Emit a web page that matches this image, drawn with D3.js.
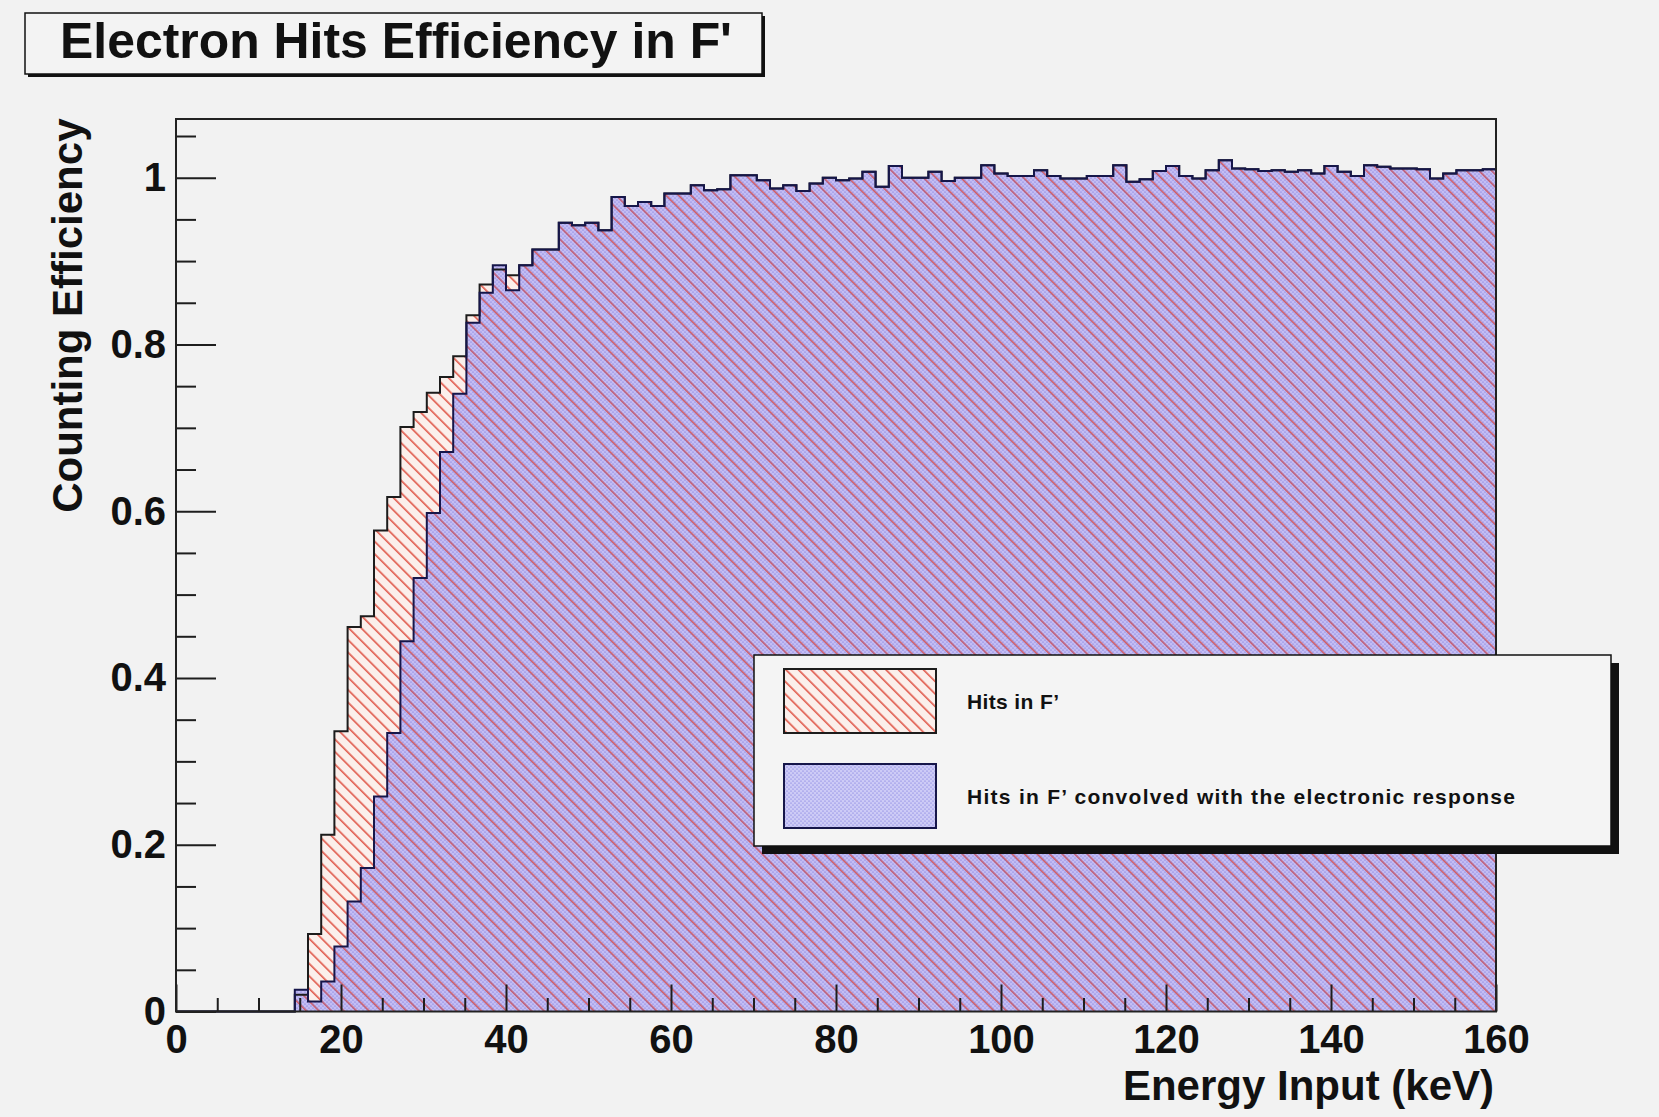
<!DOCTYPE html>
<html>
<head>
<meta charset="utf-8">
<script src="https://cdn.jsdelivr.net/npm/d3@7"></script>
<style>
  body { margin: 0; background: #f2f2f2; }
  svg { display: block; font-family: "Liberation Sans", Arial, Helvetica, sans-serif; font-weight: bold; }
</style>
</head>
<body>
<div id="chart"></div>
<script>
// histogram binning (keV)
var xMin = 0, xMax = 160, nBins = 100;

// Hits in F' (red hatched)
var hitsRaw = [
  0, 0, 0, 0, 0, 0, 0, 0, 0, 0.020,
  0.093, 0.212, 0.336, 0.461, 0.474, 0.577, 0.617, 0.701, 0.719, 0.742,
  0.761, 0.786, 0.835, 0.872, 0.890, 0.883, 0.895, 0.914, 0.914, 0.946,
  0.943, 0.946, 0.937, 0.977, 0.966, 0.971, 0.966, 0.981, 0.981, 0.991,
  0.985, 0.986, 1.003, 1.003, 0.997, 0.987, 0.991, 0.984, 0.993, 1.000,
  0.997, 0.999, 1.007, 0.989, 1.014, 1.000, 1.000, 1.007, 0.996, 1.000,
  1.000, 1.015, 1.005, 1.002, 1.002, 1.009, 1.002, 0.999, 0.999, 1.002,
  1.002, 1.015, 0.995, 0.998, 1.008, 1.014, 1.002, 0.999, 1.009, 1.021,
  1.011, 1.010, 1.008, 1.009, 1.007, 1.009, 1.005, 1.014, 1.007, 1.002,
  1.015, 1.013, 1.011, 1.011, 1.010, 0.999, 1.005, 1.009, 1.009, 1.010
];

// Hits in F' convolved with the electronic response (blue dotted)
var hitsConvolved = [
  0, 0, 0, 0, 0, 0, 0, 0, 0, 0.026,
  0.012, 0.036, 0.078, 0.132, 0.172, 0.258, 0.334, 0.444, 0.520, 0.598,
  0.671, 0.741, 0.826, 0.862, 0.895, 0.865, 0.895, 0.914, 0.914, 0.946,
  0.943, 0.946, 0.937, 0.977, 0.966, 0.971, 0.966, 0.981, 0.981, 0.991,
  0.985, 0.986, 1.003, 1.003, 0.997, 0.987, 0.991, 0.984, 0.993, 1.000,
  0.997, 0.999, 1.007, 0.989, 1.014, 1.000, 1.000, 1.007, 0.996, 1.000,
  1.000, 1.015, 1.005, 1.002, 1.002, 1.009, 1.002, 0.999, 0.999, 1.002,
  1.002, 1.015, 0.995, 0.998, 1.008, 1.014, 1.002, 0.999, 1.009, 1.021,
  1.011, 1.010, 1.008, 1.009, 1.007, 1.009, 1.005, 1.014, 1.007, 1.002,
  1.015, 1.013, 1.011, 1.011, 1.010, 0.999, 1.005, 1.009, 1.009, 1.010
];

var xTickValues = [0, 20, 40, 60, 80, 100, 120, 140, 160];
var xTickLabels = ["0", "20", "40", "60", "80", "100", "120", "140", "160"];
var yTickValues = [0, 0.2, 0.4, 0.6, 0.8, 1];
var yTickLabels = ["0", "0.2", "0.4", "0.6", "0.8", "1"];
var legendLabels = ["Hits in F\u2019", "Hits in F\u2019 convolved with the electronic response"];

var svgWidth = 1659;
var svgHeight = 1117;

var margin = { top: 119, right: 163, bottom: 105.5, left: 176 };
var width = svgWidth - margin.left - margin.right;
var height = svgHeight - margin.top - margin.bottom;

var svg = d3.select("#chart")
  .append("svg")
  .attr("width", svgWidth)
  .attr("height", svgHeight);

svg.append("rect")
  .attr("width", svgWidth)
  .attr("height", svgHeight)
  .attr("fill", "#f2f2f2");

// fill patterns
var defs = svg.append("defs");

defs.append("pattern")
  .attr("id", "hatchRed")
  .attr("patternUnits", "userSpaceOnUse")
  .attr("width", 8.84)
  .attr("height", 10)
  .attr("patternTransform", "rotate(-45)")
  .append("rect")
  .attr("width", 1.6)
  .attr("height", 10)
  .attr("fill", "#e0584a");

var dots = defs.append("pattern")
  .attr("id", "dotsBlue")
  .attr("patternUnits", "userSpaceOnUse")
  .attr("width", 4)
  .attr("height", 4);
dots.append("circle").attr("cx", 1).attr("cy", 1).attr("r", 0.6).attr("fill", "#6664d6");
dots.append("circle").attr("cx", 3).attr("cy", 3).attr("r", 0.6).attr("fill", "#6664d6");

var chartGroup = svg.append("g")
  .attr("transform", `translate(${margin.left}, ${margin.top})`);

// scales
var x = d3.scaleLinear().domain([xMin, xMax]).range([0, width]);
var y = d3.scaleLinear().domain([0, 1.0704]).range([height, 0]);

var binWidth = (xMax - xMin) / nBins;

function toSteps(values) {
  var pts = values.map((v, i) => ({ e: xMin + i * binWidth, v: v }));
  pts.push({ e: xMax, v: values[values.length - 1] });
  return pts;
}

var redPts = toSteps(hitsRaw);
var bluePts = toSteps(hitsConvolved);

var area = d3.area()
  .curve(d3.curveStepAfter)
  .x(d => x(d.e))
  .y0(y(0))
  .y1(d => y(d.v));

var line = d3.line()
  .curve(d3.curveStepAfter)
  .x(d => x(d.e))
  .y(d => y(d.v));

// layered fills: pale base, lavender base, red hatch, blue tint + dots
chartGroup.append("path").attr("d", area(redPts)).attr("fill", "#fbefeb");
chartGroup.append("path").attr("d", area(bluePts)).attr("fill", "#cdcbf6");
chartGroup.append("path").attr("d", area(redPts)).attr("fill", "url(#hatchRed)");
chartGroup.append("path").attr("d", area(bluePts)).attr("fill", "rgba(120,90,220,0.12)");
chartGroup.append("path").attr("d", area(bluePts)).attr("fill", "url(#dotsBlue)");

// outlines
chartGroup.append("path")
  .attr("d", line(redPts))
  .attr("fill", "none")
  .attr("stroke", "#1c1c1c")
  .attr("stroke-width", 2);

chartGroup.append("path")
  .attr("d", line(bluePts))
  .attr("fill", "none")
  .attr("stroke", "#16164a")
  .attr("stroke-width", 2);

// axes (ticks point into the frame)
var bottomAxis = d3.axisBottom(x)
  .tickValues(xTickValues)
  .tickFormat((d, i) => xTickLabels[i])
  .tickSizeInner(-27)
  .tickSizeOuter(0)
  .tickPadding(13);

var bottomMinor = d3.axisBottom(x)
  .tickValues(d3.range(0, 161, 5).filter(v => v % 20 !== 0))
  .tickFormat("")
  .tickSizeInner(-13.5)
  .tickSizeOuter(0);

var leftAxis = d3.axisLeft(y)
  .tickValues(yTickValues)
  .tickFormat((d, i) => yTickLabels[i])
  .tickSizeInner(-40)
  .tickSizeOuter(0)
  .tickPadding(10);

var leftMinor = d3.axisLeft(y)
  .tickValues(d3.range(0.05, 1.07, 0.05).filter(v => Math.abs(v * 5 - Math.round(v * 5)) > 1e-6))
  .tickFormat("")
  .tickSizeInner(-20)
  .tickSizeOuter(0);

var xAxisG = chartGroup.append("g").attr("transform", `translate(0, ${height})`).call(bottomAxis);
var xMinorG = chartGroup.append("g").attr("transform", `translate(0, ${height})`).call(bottomMinor);
var yAxisG = chartGroup.append("g").call(leftAxis);
var yMinorG = chartGroup.append("g").call(leftMinor);

[xAxisG, xMinorG, yAxisG, yMinorG].forEach(function(g) {
  g.select(".domain").remove();
  g.selectAll(".tick line").attr("stroke", "#1e1e1e").attr("stroke-width", 2);
  g.selectAll("text")
    .attr("fill", "#111")
    .attr("font-size", "40px")
    .attr("font-family", "'Liberation Sans', Arial, sans-serif")
    .attr("font-weight", "bold");
});

// frame
chartGroup.append("rect")
  .attr("width", width)
  .attr("height", height)
  .attr("fill", "none")
  .attr("stroke", "#222")
  .attr("stroke-width", 2);

// axis titles
svg.append("text")
  .attr("x", margin.left + width - 2)
  .attr("y", 1100)
  .attr("text-anchor", "end")
  .attr("font-size", "42px")
  .attr("fill", "#111")
  .text("Energy Input (keV)");

svg.append("text")
  .attr("transform", "translate(82, 118.5) rotate(-90)")
  .attr("text-anchor", "end")
  .attr("font-size", "42px")
  .attr("fill", "#111")
  .text("Counting Efficiency");

// title box
svg.append("rect")
  .attr("x", 28).attr("y", 16)
  .attr("width", 737).attr("height", 61)
  .attr("fill", "#111");
svg.append("rect")
  .attr("x", 25).attr("y", 13)
  .attr("width", 737).attr("height", 61)
  .attr("fill", "#f3f3f3")
  .attr("stroke", "#111")
  .attr("stroke-width", 1.5);
svg.append("text")
  .attr("x", 60)
  .attr("y", 58)
  .attr("font-size", "50px")
  .attr("fill", "#111")
  .attr("textLength", 672)
  .attr("lengthAdjust", "spacingAndGlyphs")
  .text("Electron Hits Efficiency in F'");

// legend
var legend = svg.append("g").attr("transform", "translate(754, 655)");
legend.append("rect")
  .attr("x", 8).attr("y", 8)
  .attr("width", 857).attr("height", 191)
  .attr("fill", "#111");
legend.append("rect")
  .attr("width", 857).attr("height", 191)
  .attr("fill", "#f4f4f4")
  .attr("stroke", "#111")
  .attr("stroke-width", 1.5);

var sw = { x: 30, w: 152, h: 64 };
var rowY = [14, 109];

var s1 = legend.append("g").attr("transform", `translate(${sw.x}, ${rowY[0]})`);
s1.append("rect").attr("width", sw.w).attr("height", sw.h).attr("fill", "#fbefeb");
s1.append("rect").attr("width", sw.w).attr("height", sw.h).attr("fill", "url(#hatchRed)");
s1.append("rect").attr("width", sw.w).attr("height", sw.h)
  .attr("fill", "none").attr("stroke", "#1c1c1c").attr("stroke-width", 2);

var s2 = legend.append("g").attr("transform", `translate(${sw.x}, ${rowY[1]})`);
s2.append("rect").attr("width", sw.w).attr("height", sw.h).attr("fill", "#cdcbf6");
s2.append("rect").attr("width", sw.w).attr("height", sw.h).attr("fill", "url(#dotsBlue)");
s2.append("rect").attr("width", sw.w).attr("height", sw.h)
  .attr("fill", "none").attr("stroke", "#16164a").attr("stroke-width", 2);

var legendTextLen = [92, 548];
legend.selectAll("text.lbl")
  .data(legendLabels)
  .enter()
  .append("text")
  .attr("class", "lbl")
  .attr("x", 213)
  .attr("y", (d, i) => rowY[i] + sw.h / 2 + 7.5)
  .attr("font-size", "21px")
  .attr("fill", "#111")
  .attr("textLength", (d, i) => legendTextLen[i])
  .attr("lengthAdjust", "spacing")
  .text(d => d);
</script>
</body>
</html>
